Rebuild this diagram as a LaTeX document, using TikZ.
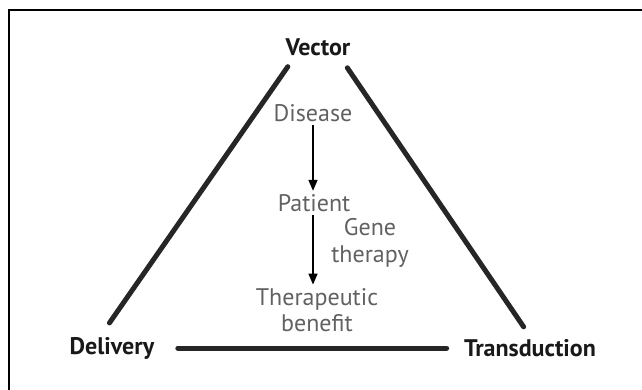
\documentclass[tikz,border=0pt]{standalone}
\usepackage{fontspec}
\setsansfont{PT Sans}
\usetikzlibrary{arrows.meta}
\newcommand*{\sidewd }{5pt}
\newcommand*{\txtsize}{\fontsize{24}{26.5}\selectfont}
\tikzset{
    corner/.style={font=\sffamily\bfseries\txtsize, text=black!90},
    stage/.style={font=\sffamily\txtsize, text=black!62, align=center},
    side/.style={line width=\sidewd, draw=black!85, line cap=round},
    flow/.style={line width=1.5pt, -{Triangle[width=9pt,length=11pt]}},
}

\begin{document}
\begin{tikzpicture}[x=1pt,y=-1pt]
    \useasboundingbox (0,0) rectangle (642,390);
    \draw [line width=2.2pt] (9,391) -- (9,10) -- (643,10);
    % corners of the triangle
    \coordinate (top) at (317.5,24);
    \coordinate (lft) at (90.6,350);
    \coordinate (rgt) at (539.4,350);
    \node [corner] (vector)       at (318,47)  {Vector};
    \node [corner] (delivery)     at (112,348) {Delivery};
    \node [corner] (transduction) at (530,348) {Transduction};
    \draw [side, shorten <=52pt, shorten >=33pt] (top) -- (lft);
    \draw [side, shorten <=53pt, shorten >=28pt] (top) -- (rgt);
    \draw [side, shorten <=20pt, shorten >=14pt] (delivery) -- (transduction);
    % what the vector does
    \node [stage] (disease) at (313,113) {Disease};
    \node [stage] (patient) at (314,203) {Patient};
    \node [stage] (benefit) at (317,310) {Therapeutic\\benefit};
    \node [stage] (gene)    at (370,243) {Gene\\therapy};
    \draw [flow] (disease.south) -- (disease.south |- patient.north);
    \draw [flow] (disease.south |- patient.south) -- (disease.south |- benefit.north);
\end{tikzpicture}
\end{document}
